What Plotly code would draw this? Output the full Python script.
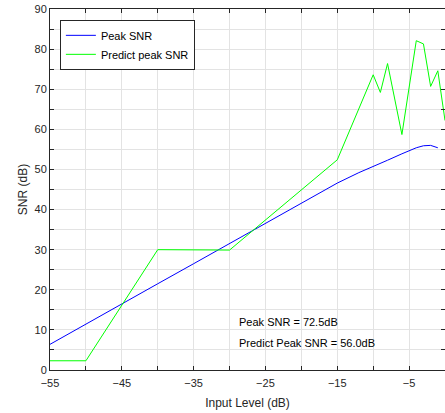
import plotly.graph_objects as go

peak_x = [-55, -50, -45, -40, -35, -30, -25, -20, -15, -12, -10, -8, -6, -5, -4, -3, -2, -1]
peak_snr = [6.4, 11.5, 16.5, 21.5, 26.5, 31.5, 36.5, 41.5, 46.6, 49.2, 50.7, 52.3, 53.9, 54.7, 55.4, 55.9, 56.0, 55.4]

pred_x = [-55, -50, -40, -30, -15, -10, -9, -8, -6, -4, -3, -2, -1, 0]
pred_snr = [2.3, 2.3, 30.0, 29.9, 52.4, 73.6, 69.2, 76.4, 58.7, 82.1, 81.3, 70.7, 74.6, 62.2]

x_ticks = [-55, -45, -35, -25, -15, -5]
y_ticks = [0, 10, 20, 30, 40, 50, 60, 70, 80, 90]
notes = ["Peak SNR = 72.5dB", "Predict Peak SNR = 56.0dB"]
note_y = [11.9, 6.7]

font = "Liberation Sans, Arial, sans-serif"
txt = "#262626"

fig = go.Figure()
fig.add_trace(go.Scatter(x=peak_x, y=peak_snr, mode="lines", name="Peak SNR",
                         line=dict(color="#0000ff", width=1)))
fig.add_trace(go.Scatter(x=pred_x, y=pred_snr, mode="lines", name="Predict peak SNR",
                         line=dict(color="#00ff00", width=1)))

for t, yv in zip(notes, note_y):
    fig.add_annotation(x=-29.0, y=yv, text=t, showarrow=False,
                       xanchor="left", yanchor="middle",
                       font=dict(family=font, size=11, color="#000000"))

axis_common = dict(
    showline=True, linecolor="#262626", linewidth=1, mirror="ticks",
    ticks="inside", ticklen=4, tickcolor="#262626",
    showgrid=True, gridcolor="#e3e3e3", gridwidth=1, zeroline=False,
    tickfont=dict(family=font, size=11, color=txt),
)

fig.update_xaxes(range=[-55, 0], tickvals=x_ticks, ticklabelstandoff=3,
                 title=dict(text="Input Level (dB)", font=dict(family=font, size=12, color=txt), standoff=10),
                 minor=dict(dtick=5, tick0=-55, showgrid=True, gridcolor="#e3e3e3",
                            ticks="inside", ticklen=4, tickcolor="#262626"),
                 **axis_common)
fig.update_yaxes(range=[0, 90], tickvals=y_ticks,
                 title=dict(text="SNR (dB)", font=dict(family=font, size=12, color=txt), standoff=4),
                 minor=dict(dtick=5, tick0=0, showgrid=True, gridcolor="#e3e3e3",
                            ticks="inside", ticklen=4, tickcolor="#262626"),
                 **axis_common)

fig.update_layout(
    width=445, height=413,
    margin=dict(l=50, r=0, t=9, b=43, autoexpand=False),
    paper_bgcolor="white", plot_bgcolor="white",
    showlegend=True, hovermode=False,
    legend=dict(x=0.025, y=0.97, xanchor="left", yanchor="top",
                bgcolor="white", bordercolor="#262626", borderwidth=1,
                font=dict(family=font, size=11, color="#000000"),
                tracegroupgap=0, itemwidth=30),
)

fig.write_html("out.html", config={"displayModeBar": False, "staticPlot": True},
               post_script="document.body.style.margin='0';")
